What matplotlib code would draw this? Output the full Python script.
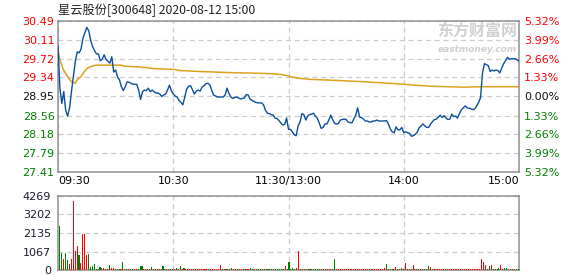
import matplotlib
matplotlib.use('Agg')
import matplotlib.pyplot as plt

# ---------------- data ----------------
title = "星云股份[300648] 2020-08-12 15:00"
pre_close = 28.95
price_ticks = [27.41, 27.79, 28.18, 28.56, 28.95, 29.34, 29.72, 30.11, 30.49]
pct_labels = ["5.32%", "3.99%", "2.66%", "1.33%", "0.00%", "1.33%", "2.66%", "3.99%", "5.32%"]
time_labels = ["09:30", "10:30", "11:30/13:00", "14:00", "15:00"]
time_minutes = [0, 60, 120, 180, 240]
vol_ticks = [0, 1067, 2135, 3202, 4269]

prices = [
    29.98, 29.12, 28.81, 29.05, 28.67, 28.55, 28.71, 29.05, 29.35, 29.66,
    29.86, 29.84, 29.92, 30.14, 30.25, 30.36, 30.29, 30.10, 29.97, 29.89,
    29.82, 29.82, 29.68, 29.71, 29.80, 29.71, 29.67, 29.63, 29.76, 29.45,
    29.49, 29.35, 29.29, 29.15, 29.07, 29.15, 29.25, 29.24, 29.22, 29.20,
    29.20, 29.20, 29.08, 28.89, 29.05, 29.08, 29.07, 29.12, 29.05, 29.08,
    29.05, 29.02, 29.02, 29.00, 28.95, 28.98, 29.00, 29.08, 29.18, 29.07,
    29.00, 28.96, 28.94, 28.87, 28.83, 28.78, 28.94, 29.10, 29.16, 29.17,
    29.09, 29.00, 29.06, 29.08, 29.06, 29.14, 29.17, 29.21, 29.22, 29.19,
    29.08, 28.98, 28.96, 28.94, 28.94, 28.94, 28.94, 28.98, 29.12, 29.01,
    28.94, 28.91, 28.93, 28.94, 28.92, 28.90, 28.91, 28.92, 28.99, 28.98,
    28.90, 28.87, 28.85, 28.83, 28.82, 28.82, 28.82, 28.78, 28.67, 28.61,
    28.60, 28.58, 28.57, 28.51, 28.50, 28.46, 28.41, 28.37, 28.38, 28.51,
    28.28, 28.28, 28.23, 28.17, 28.15, 28.35, 28.43, 28.60, 28.58, 28.47,
    28.55, 28.58, 28.59, 28.61, 28.55, 28.51, 28.41, 28.30, 28.32, 28.39,
    28.39, 28.47, 28.57, 28.48, 28.40, 28.39, 28.40, 28.47, 28.48, 28.49,
    28.48, 28.43, 28.42, 28.41, 28.49, 28.57, 28.72, 28.53, 28.52, 28.49,
    28.45, 28.45, 28.43, 28.43, 28.45, 28.45, 28.47, 28.45, 28.45, 28.45,
    28.45, 28.46, 28.39, 28.29, 28.23, 28.21, 28.33, 28.27, 28.27, 28.32,
    28.21, 28.23, 28.21, 28.20, 28.14, 28.15, 28.18, 28.22, 28.31, 28.35,
    28.39, 28.35, 28.32, 28.32, 28.39, 28.44, 28.48, 28.49, 28.53, 28.57,
    28.52, 28.56, 28.51, 28.48, 28.49, 28.59, 28.54, 28.55, 28.51, 28.60,
    28.68, 28.72, 28.76, 28.72, 28.71, 28.70, 28.68, 28.70, 28.76, 28.83,
    28.93, 29.43, 29.62, 29.60, 29.58, 29.46, 29.49, 29.47, 29.49, 29.48,
    29.43, 29.53, 29.62, 29.68, 29.75, 29.71, 29.72, 29.72, 29.72, 29.70,
    29.67,
]

avg_minutes = [0, 1, 3, 4, 6, 7, 9, 10, 12, 14, 15, 17, 20, 33, 34, 43, 50, 61,
               63, 74, 87, 108, 116, 120, 121, 126, 131, 144, 160, 172, 180,
               186, 194, 211, 221, 240]
avg_prices = [29.90, 29.69, 29.48, 29.42, 29.30, 29.25, 29.22, 29.29, 29.36,
              29.47, 29.52, 29.56, 29.59, 29.59, 29.57, 29.55, 29.52, 29.50,
              29.48, 29.46, 29.44, 29.42, 29.40, 29.37, 29.35, 29.32, 29.30,
              29.28, 29.25, 29.22, 29.20, 29.18, 29.16, 29.14, 29.15, 29.15]

volumes = [
    2558, 981, 654, 981, 596, 346, 654, 3962, 1115, 1404,
    885, 404, 2096, 2096, 885, 942, 192, 250, 346, 77,
    77, 192, 135, 135, 77, 77, 308, 135, 135, 77,
    77, 77, 77, 481,
    60, 77, 60, 60, 77, 60, 60, 60, 250, 250,
    60, 77, 60, 60, 192, 60, 60, 77, 60, 60,
    250, 60, 60, 77, 60, 60, 60,
    135, 60, 250, 60, 135, 60, 60, 60, 60, 60,
    60, 60, 60, 60, 60, 60, 60, 60, 60, 60,
    60, 60, 60,
    308, 60, 60, 60, 60, 60, 135, 60, 60, 60,
    60, 60, 60, 60, 60, 60, 135, 60, 60, 60,
    60, 60, 60, 60, 60, 60, 60, 60, 60, 60,
    60, 60, 60, 60, 250, 60, 481,
    60, 135, 60, 135, 1115, 60, 60, 60, 60, 60,
    60, 60, 60, 60, 60, 60, 60, 60, 60, 60,
    60, 60, 60,
    654, 60, 60, 60, 60, 60, 60, 60, 60, 60,
    60, 60, 60, 60, 60, 60, 60, 60, 60, 60,
    60, 60, 60, 60, 60, 60,
    135, 365, 60, 60, 60, 60, 192, 60, 60, 135,
    60, 423, 60, 60, 60, 308, 60, 60, 60, 60,
    60, 60, 60, 250, 192, 60, 60, 60, 60, 60,
    60, 60, 60, 60, 60, 60, 60, 60, 60, 60,
    60, 60, 60, 60, 60, 60, 60, 60, 60, 60,
    60,
    654, 481, 308, 60, 250, 308, 60, 60, 60, 135,
    270, 60, 135, 135, 60, 60, 60, 60, 60, 77,
]
vol_dirs = ("GGRGGRRRRRGRRRRGGGGGRGGRRRGRRGGGRG"
            "RGRGGRRGGGRGRRGGRGRRGGRGGRR"
            "GRGRGRRRRRGRRRRRRGRRRRR"
            "RGRGRGGRGRGRRGRRGGRGGRGGRGGGRGGGGGRGG"
            "GGGRRGRRGGGRGGGGRGRRGRG"
            "GRRRRRRGRRRRRRRRRRGRRRRRRR"
            "RGRGGRRGRGRRGRRRRGRGRGGGRRRGRR"
            "RRRGRRRRRRGRRRRRRRRRR"
            "RRRGGRGRGGRRGGRGRGGG")

# ---------------- style ----------------
RED = '#ff0000'
GREEN = '#008000'
LINE_BLUE = '#0b4f9c'
AVG_GOLD = '#dca11d'
GRID = '#cccccc'
FRAME = '#8f8f8f'
plt.rcParams['font.family'] = ['DejaVu Sans']

W, H = 578, 276
fig = plt.figure(figsize=(W / 100, H / 100), dpi=100)
fig.patch.set_facecolor('white')

L, R = 58, 519
ax = fig.add_axes([L / W, 1 - 172 / H, (R - L) / W, (172 - 21) / H])
ax.set_xlim(0, 240)
ax.set_ylim(price_ticks[0], price_ticks[-1])
ax.plot(range(len(prices)), prices, color=LINE_BLUE, lw=1.0, zorder=3)
ax.plot(avg_minutes, avg_prices, color=AVG_GOLD, lw=1.1, zorder=2)

ax.set_yticks(price_ticks)
ax.set_yticklabels([f"{v:.2f}" for v in price_ticks], fontsize=8)
for lbl, v in zip(ax.get_yticklabels(), price_ticks):
    lbl.set_color(RED if v > pre_close + 1e-9 else (GREEN if v < pre_close - 1e-9 else '#111111'))
ax.set_xticks(time_minutes)
ax.set_xticklabels(time_labels, fontsize=8)
for lbl, ha in zip(ax.get_xticklabels(), ['left', 'center', 'center', 'center', 'right']):
    lbl.set_ha(ha)
ax.tick_params(axis='both', length=0)
ax.tick_params(axis='y', pad=2.5)
ax.tick_params(axis='x', pad=3)
ax.grid(True, color=GRID, linestyle=(0, (4, 3)), linewidth=0.9)
ax.set_axisbelow(True)
for s in ax.spines.values():
    s.set_color(FRAME)
    s.set_linewidth(1.1)

axr = ax.twinx()
axr.set_ylim(ax.get_ylim())
axr.set_yticks(price_ticks)
axr.set_yticklabels(pct_labels, fontsize=8)
for lbl, v in zip(axr.get_yticklabels(), price_ticks):
    lbl.set_color(RED if v > pre_close + 1e-9 else (GREEN if v < pre_close - 1e-9 else '#111111'))
axr.tick_params(axis='y', length=0, pad=3.5)
for s in axr.spines.values():
    s.set_visible(False)

# watermark
ax.text(0.996, 0.985, "东方财富网", transform=ax.transAxes, ha='right', va='top',
        fontsize=11.5, fontweight='bold', color='#d0d0d0',
        family=['Noto Sans CJK SC', 'DejaVu Sans'], zorder=1)
ax.text(0.996, 0.84, "eastmoney.com", transform=ax.transAxes, ha='right', va='top',
        fontsize=6.5, fontweight='bold', style='italic', color='#d0d0d0', zorder=1)

fig.text(L / W, 1 - 10 / H, title, ha='left', va='center', fontsize=8.8,
         color='#222222', family=['Noto Sans CJK SC', 'DejaVu Sans'])

# volume panel
axv = fig.add_axes([L / W, 6 / H, (R - L) / W, 74 / H])
axv.set_xlim(-1, 240.5)
axv.set_ylim(vol_ticks[0], vol_ticks[-1])
colors = [RED if d == 'R' else GREEN for d in vol_dirs]
axv.bar(range(len(volumes)), volumes, width=0.55, color=colors, linewidth=0,
        antialiased=False, zorder=3)
axv.set_yticks(vol_ticks)
axv.set_yticklabels([str(v) for v in vol_ticks], fontsize=8, color='#1a1a33')
axv.set_xticks([59.4, 119.8, 180.2])
axv.set_xticklabels([])
axv.tick_params(axis='both', length=0)
axv.tick_params(axis='y', pad=5)
axv.grid(True, color=GRID, linestyle=(0, (4, 3)), linewidth=0.9)
axv.set_axisbelow(True)
for s in axv.spines.values():
    s.set_color(FRAME)
    s.set_linewidth(1.1)

fig.savefig('out.png', dpi=100, facecolor='white')
